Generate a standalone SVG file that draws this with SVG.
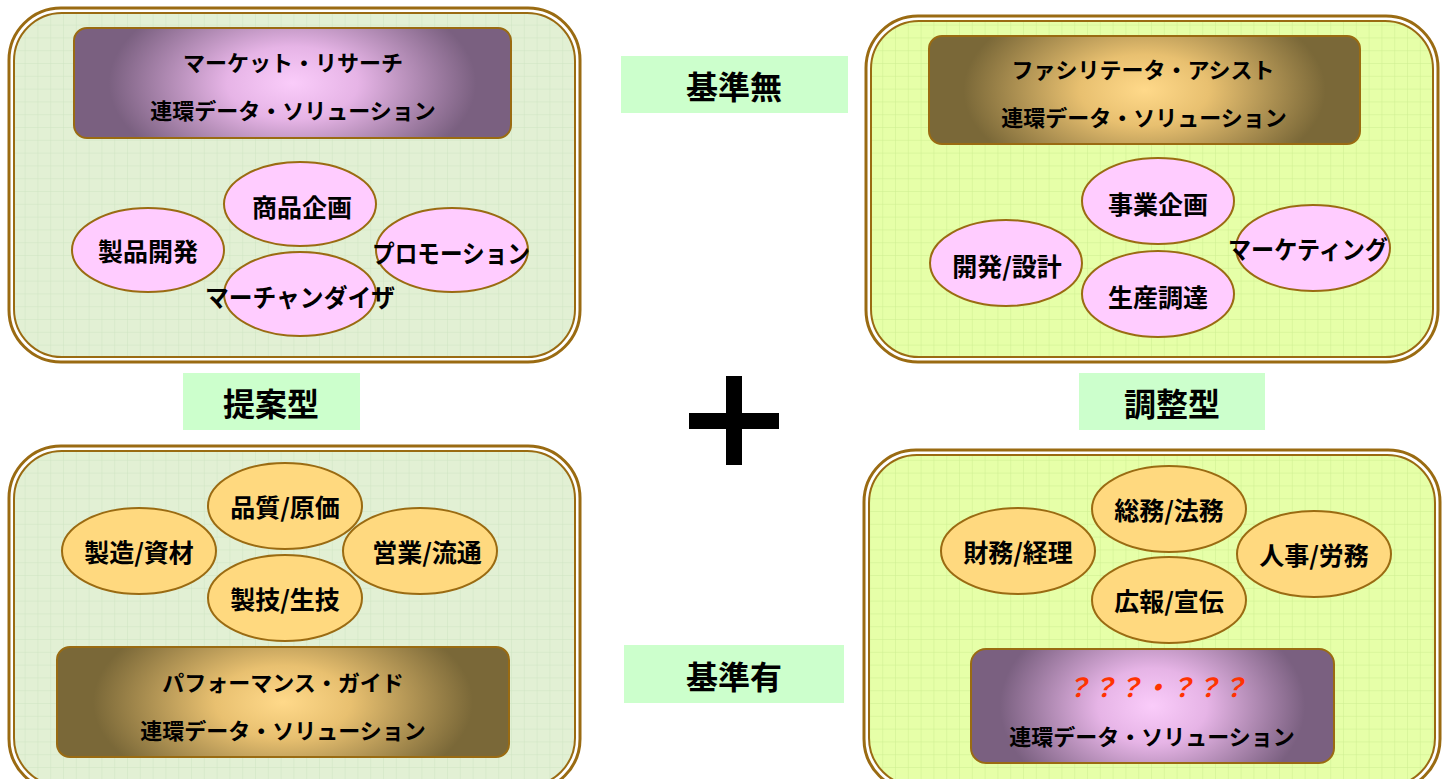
<svg xmlns="http://www.w3.org/2000/svg" width="1446" height="779" viewBox="0 0 1446 779">
<style>
text{font-family:"Noto Sans CJK JP","Liberation Sans",sans-serif;font-weight:bold;fill:#000;text-anchor:middle;dominant-baseline:central}
.outer{fill:#fff;stroke:#9A6B12;stroke-width:3}
.innerA{fill:url(#gridA);stroke:#9A6B12;stroke-width:2}
.innerB{fill:url(#gridB);stroke:#9A6B12;stroke-width:2}
.pink{fill:#FFCCFF;stroke:#9A6B12;stroke-width:2}
.gold{fill:#FFD97F;stroke:#9A6B12;stroke-width:2}
.lbl{fill:#CCFFCC}
.t1{font-size:22px}
.te{font-size:25px}
.tl{font-size:32px}
.q{fill:#FF3300;font-style:italic;font-size:26px}
</style>
<defs>
<pattern id="gridA" width="12.8" height="12.8" patternUnits="userSpaceOnUse">
<rect width="12.8" height="12.8" fill="#E2F0D4"/>
<path d="M12.8 0V12.8M0 12.8H12.8" stroke="#CFE5C2" stroke-width="1"/>
</pattern>
<pattern id="gridB" width="12.8" height="12.8" patternUnits="userSpaceOnUse">
<rect width="12.8" height="12.8" fill="#E6FFA8"/>
<path d="M12.8 0V12.8M0 12.8H12.8" stroke="#CDEE90" stroke-width="1"/>
</pattern>
<radialGradient id="purple" cx="0.5" cy="0.5" r="0.6" gradientTransform="translate(0.5 0.5) scale(1 2.2) translate(-0.5 -0.5)">
<stop offset="0" stop-color="#FACCFA"/>
<stop offset="0.25" stop-color="#E6B4E6"/>
<stop offset="0.7" stop-color="#7A6080"/>
</radialGradient>
<radialGradient id="goldg" cx="0.5" cy="0.5" r="0.6" gradientTransform="translate(0.5 0.5) scale(1 2.2) translate(-0.5 -0.5)">
<stop offset="0" stop-color="#FFD98A"/>
<stop offset="0.25" stop-color="#E8C070"/>
<stop offset="0.7" stop-color="#7A6838"/>
</radialGradient>
</defs>
<rect width="1446" height="779" fill="#fff"/>

<g id="panel-tl">
<rect class="outer" x="9" y="8" width="571" height="354" rx="52"/>
<rect class="innerA" x="14" y="13" width="561" height="344" rx="48"/>
<rect x="74" y="28" width="437" height="110" rx="13" fill="url(#purple)" stroke="#9A6B12" stroke-width="2"/>
<text class="t1" x="293" y="61">マーケット・リサーチ</text>
<text class="t1" x="293" y="109">連環データ・ソリューション</text>
</g>
<g id="node-seihin"><ellipse class="pink" cx="148" cy="250" rx="76" ry="42"/><text class="te" x="148" y="250">製品開発</text></g>
<g id="node-shohin"><ellipse class="pink" cx="300" cy="204" rx="76" ry="42"/><text class="te" x="302" y="206">商品企画</text></g>
<g id="node-promo"><ellipse class="pink" cx="452" cy="250" rx="76" ry="42"/><text class="te" x="451" y="252" textLength="158" lengthAdjust="spacingAndGlyphs">プロモーション</text></g>
<g id="node-merch"><ellipse class="pink" cx="300" cy="294" rx="76" ry="42"/><text class="te" x="300" y="296" textLength="190" lengthAdjust="spacingAndGlyphs">マーチャンダイザ</text></g>

<g id="panel-tr">
<rect class="outer" x="866" y="16" width="572" height="346" rx="52"/>
<rect class="innerB" x="871" y="21" width="562" height="336" rx="48"/>
<rect x="929" y="36" width="431" height="108" rx="13" fill="url(#goldg)" stroke="#9A6B12" stroke-width="2"/>
<text class="t1" x="1143" y="68">ファシリテータ・アシスト</text>
<text class="t1" x="1144" y="116">連環データ・ソリューション</text>
</g>
<g id="node-kaihatsu"><ellipse class="pink" cx="1006" cy="263" rx="76" ry="43"/><text class="te" x="1007" y="265">開発/設計</text></g>
<g id="node-jigyo"><ellipse class="pink" cx="1158" cy="201" rx="76" ry="43"/><text class="te" x="1158" y="203">事業企画</text></g>
<g id="node-seisan"><ellipse class="pink" cx="1158" cy="294" rx="76" ry="43"/><text class="te" x="1158" y="296">生産調達</text></g>
<g id="node-mkt"><ellipse class="pink" cx="1313" cy="248" rx="77" ry="43"/><text class="te" x="1308" y="248" textLength="160" lengthAdjust="spacingAndGlyphs">マーケティング</text></g>

<g id="panel-bl">
<rect class="outer" x="9" y="446" width="571" height="345" rx="52"/>
<rect class="innerA" x="14" y="451" width="561" height="335" rx="48"/>
<rect x="57" y="647" width="452" height="110" rx="13" fill="url(#goldg)" stroke="#9A6B12" stroke-width="2"/>
<text class="t1" x="283" y="681">パフォーマンス・ガイド</text>
<text class="t1" x="283" y="729">連環データ・ソリューション</text>
</g>
<g id="node-seizo"><ellipse class="gold" cx="139" cy="551" rx="77" ry="43"/><text class="te" x="139" y="551">製造/資材</text></g>
<g id="node-hinshitsu"><ellipse class="gold" cx="285" cy="506" rx="77" ry="43"/><text class="te" x="285" y="506">品質/原価</text></g>
<g id="node-eigyo"><ellipse class="gold" cx="420" cy="551" rx="77" ry="43"/><text class="te" x="427" y="551">営業/流通</text></g>
<g id="node-seigi"><ellipse class="gold" cx="285" cy="598" rx="77" ry="43"/><text class="te" x="285" y="598">製技/生技</text></g>

<g id="panel-br">
<rect class="outer" x="864" y="450" width="576" height="341" rx="52"/>
<rect class="innerB" x="869" y="455" width="566" height="331" rx="48"/>
<rect x="971" y="649" width="363" height="114" rx="15" fill="url(#purple)" stroke="#9A6B12" stroke-width="2"/>
<text class="q" x="1156" y="685">？？？・？？？</text>
<text class="t1" x="1152" y="735">連環データ・ソリューション</text>
</g>
<g id="node-zaimu"><ellipse class="gold" cx="1018" cy="551" rx="77" ry="43"/><text class="te" x="1018" y="551">財務/経理</text></g>
<g id="node-somu"><ellipse class="gold" cx="1169" cy="509" rx="77" ry="43"/><text class="te" x="1169" y="509">総務/法務</text></g>
<g id="node-jinji"><ellipse class="gold" cx="1314" cy="554" rx="77" ry="43"/><text class="te" x="1314" y="554">人事/労務</text></g>
<g id="node-koho"><ellipse class="gold" cx="1169" cy="600" rx="77" ry="43"/><text class="te" x="1169" y="600">広報/宣伝</text></g>

<g id="label-mu"><rect class="lbl" x="621" y="56" width="227" height="57"/><text class="tl" x="734" y="85">基準無</text></g>
<g id="label-teian"><rect class="lbl" x="183" y="373" width="177" height="57"/><text class="tl" x="271" y="402">提案型</text></g>
<g id="label-chosei"><rect class="lbl" x="1079" y="373" width="186" height="57"/><text class="tl" x="1172" y="402">調整型</text></g>
<g id="label-yu"><rect class="lbl" x="624" y="645" width="220" height="58"/><text class="tl" x="734" y="675">基準有</text></g>

<g id="plus" fill="#000">
<rect x="726" y="376" width="16" height="89"/>
<rect x="689" y="413" width="90" height="16"/>
</g>
<g id="connectors"></g>
</svg>
